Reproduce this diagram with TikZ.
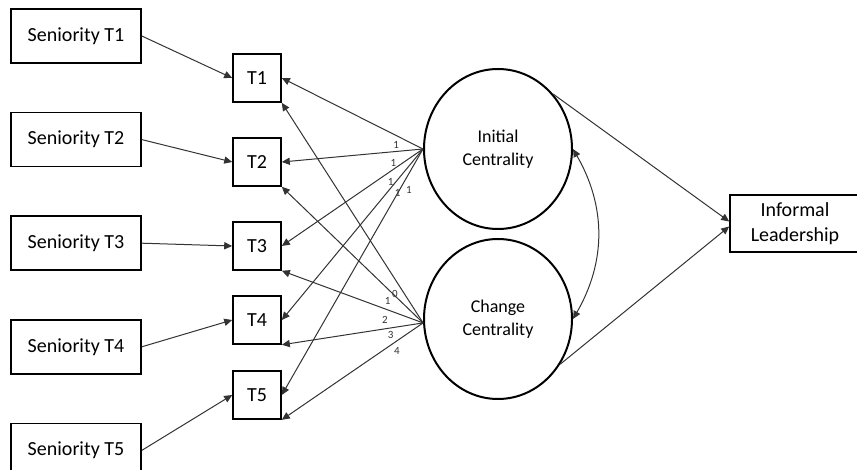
\documentclass[tikz,border=0pt]{standalone}
\usepackage{fontspec}
\setmainfont{Carlito}
\usepackage{tikz}
\usetikzlibrary{shapes.geometric, arrows.meta, positioning}

\begin{document}
\begin{tikzpicture}[
    x=0.5pt, y=-0.5pt,
    >={Triangle[length=4pt, width=3.6pt]},
    senbox/.style={draw, rectangle, line width=0.8pt, minimum width=65pt, minimum height=27pt, inner sep=2pt, font=\fontsize{10}{12}\selectfont},
    tbox/.style={draw, rectangle, line width=0.8pt, minimum size=24pt, inner sep=1pt, font=\fontsize{10}{12}\selectfont},
    latent/.style={draw, ellipse, line width=1pt, minimum width=74pt, minimum height=80pt, inner sep=0pt, align=center, font=\fontsize{9}{11.5}\selectfont},
    outbox/.style={draw, rectangle, line width=0.8pt, minimum width=65pt, minimum height=28.5pt, inner sep=2pt, align=center, font=\fontsize{10}{12.5}\selectfont},
    flow/.style={->, line width=0.5pt, black!80},
    loadlabel/.style={font=\fontsize{5.5}{6}\selectfont, inner sep=1.2pt, auto}
]
    \useasboundingbox (0,0) rectangle (857,470);

    \node[senbox]  (S1) at (76,36) {Seniority T1};
    \node[senbox]  (S2) [below=24pt of S1] {Seniority T2};
    \node[senbox]  (S3) [below=24pt of S2] {Seniority T3};
    \node[senbox]  (S4) [below=24pt of S3] {Seniority T4};
    \node[senbox]  (S5) [below=24pt of S4] {Seniority T5};

    \node[tbox]    (T1) at (257,78)  {T1};
    \node[tbox]    (T2) at (257,162) {T2};
    \node[tbox]    (T3) at (257,246) {T3};
    \node[tbox]    (T4) at (257,320) {T4};
    \node[tbox]    (T5) at (257,395) {T5};

    \node[latent]  (IC) at (498,149) {Initial\\Centrality};
    \node[latent]  (CC) at (498,319) {Change\\Centrality};

    \node[outbox]  (IL) at (795,223.5) {Informal\\Leadership};

    \draw[flow] (S1.east) -- (T1.west);
    \draw[flow] (S2.east) -- (T2.west);
    \draw[flow] (S3.east) -- (T3.west);
    \draw[flow] (S4.east) -- (T4.west);
    \draw[flow] (S5.east) -- (T5.west);

    % intercept loadings
    \draw[flow] (IC.west) -- (T1.east) node[loadlabel, pos=0.15]{1};
    \draw[flow] (IC.west) -- (T2.east) node[loadlabel, pos=0.25, yshift=-2pt]{1};
    \draw[flow] (IC.west) -- (T3.east) node[loadlabel, pos=0.27]{1};
    \draw[flow] (IC.west) -- (T4.east) node[loadlabel, pos=0.22]{1};
    \draw[flow] (IC.west) -- (T5.east) node[loadlabel, pos=0.14]{1};

    % slope loadings
    \draw[flow] (CC.183) -- (T1.south east) node[loadlabel, pos=0.16]{0};
    \draw[flow] (CC.183) -- (T2.south east) node[loadlabel, pos=0.21]{1};
    \draw[flow] (CC.183) -- (T3.south east) node[loadlabel, pos=0.23, yshift=-1.5pt]{2};
    \draw[flow] (CC.183) -- (T4.south east) node[loadlabel, pos=0.27]{3};
    \draw[flow] (CC.183) -- (T5.south east) node[loadlabel, pos=0.225]{4};

    \draw[flow, <->] (IC.east) to[bend left=30] (CC.east);

    \draw[flow] (IC.45) -- ([yshift=1pt]IL.west);
    \draw[flow] (CC.-36) -- ([yshift=-1.5pt]IL.west);

\end{tikzpicture}
\end{document}
